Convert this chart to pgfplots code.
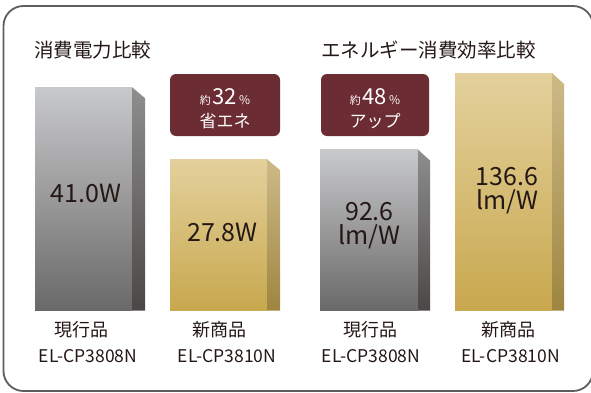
\documentclass[border=0pt]{standalone}
\usepackage{pgfplots}
\pgfplotsset{compat=1.18}
\usepackage{fontspec}
\setmainfont{Noto Sans CJK JP}
\definecolor{txt}{HTML}{231815}
\definecolor{boxc}{HTML}{6C2C33}
\definecolor{frame}{HTML}{5E5E5E}
\definecolor{gtop}{HTML}{C8C9CB}
\definecolor{gbot}{HTML}{6A6969}
\definecolor{gstop}{HTML}{8E8E8E}
\definecolor{gsbot}{HTML}{4B4746}
\definecolor{ytop}{HTML}{E3D09C}
\definecolor{ybot}{HTML}{C8A84E}
\definecolor{ystop}{HTML}{CDBA88}
\definecolor{ysbot}{HTML}{9E8540}
\begin{document}
\begin{tikzpicture}[x=1pt,y=1pt]
\path[use as bounding box] (0,0) rectangle (591,392);
% frame
\draw[frame, line width=1.8pt, rounded corners=20pt] (3.5,392-6) rectangle (593,392-391);
% power consumption axis (W); baseline at y=81.3pt, 5.45pt per W
\begin{axis}[at={(0,0)}, anchor=south west, scale only axis, width=591pt, height=392pt,
  xmin=0, xmax=591, ymin=-14.917, ymax=57.009, hide axis, clip=false]
\addplot[ybar, bar shift=0pt, bar width=97, draw=none, top color=gtop, bottom color=gbot] coordinates {(83.5,41.0)};
\addplot[ybar, bar shift=0pt, bar width=97, draw=none, top color=ytop, bottom color=ybot] coordinates {(218.5,27.8)};
\addplot[draw=none, top color=gstop, bottom color=gsbot] coordinates {(132,0) (132,41.0) (145,39.0) (145,0) (132,0)};
\addplot[draw=none, top color=ystop, bottom color=ysbot] coordinates {(267,0) (267,27.8) (280,25.8) (280,0) (267,0)};
\end{axis}
% efficiency axis (lm/W); baseline at y=81.3pt, 1.74pt per lm/W
\begin{axis}[at={(0,0)}, anchor=south west, scale only axis, width=591pt, height=392pt,
  xmin=0, xmax=591, ymin=-46.724, ymax=178.563, hide axis, clip=false]
\addplot[ybar, bar shift=0pt, bar width=98, draw=none, top color=gtop, bottom color=gbot] coordinates {(369,92.6)};
\addplot[ybar, bar shift=0pt, bar width=97, draw=none, top color=ytop, bottom color=ybot] coordinates {(503.5,136.6)};
\addplot[draw=none, top color=gstop, bottom color=gsbot] coordinates {(418,0) (418,92.6) (430,86.3) (430,0) (418,0)};
\addplot[draw=none, top color=ystop, bottom color=ysbot] coordinates {(552,0) (552,136.6) (564,130.3) (564,0) (552,0)};
\end{axis}
% titles
\node[txt, anchor=west, inner sep=0, font=\fontsize{19.5}{20}\selectfont] at (34,392-50) {消費電力比較};
\node[txt, anchor=west, inner sep=0, font=\fontsize{19.5}{20}\selectfont] at (321,392-50) {エネルギー消費効率比較};
% badges
\fill[boxc, rounded corners=6pt] (170,392-74) rectangle (280,392-136);
\fill[boxc, rounded corners=6pt] (321,392-74) rectangle (429,392-136);
\node[white, inner sep=0, anchor=base] at (225,392-104) {\fontsize{11}{12}\selectfont 約\,\fontsize{22}{24}\selectfont 32\fontsize{12}{12}\selectfont\,\%};
\node[white, inner sep=0, font=\fontsize{17}{18}\selectfont] at (225,392-121) {省エネ};
\node[white, inner sep=0, anchor=base] at (375,392-104) {\fontsize{11}{12}\selectfont 約\,\fontsize{22}{24}\selectfont 48\fontsize{12}{12}\selectfont\,\%};
\node[white, inner sep=0, font=\fontsize{17}{18}\selectfont] at (375,392-121) {アップ};
% values
\node[txt, inner sep=0, font=\fontsize{25}{26}\selectfont] at (86,392-193) {41.0W};
\node[txt, inner sep=0, font=\fontsize{25}{26}\selectfont] at (222.5,392-232) {27.8W};
\node[txt, inner sep=0, font=\fontsize{25}{26}\selectfont] at (369.5,392-212) {92.6};
\node[txt, inner sep=0, font=\fontsize{25}{26}\selectfont] at (369,392-237) {lm/W};
\node[txt, inner sep=0, font=\fontsize{25}{26}\selectfont] at (507,392-177) {136.6};
\node[txt, inner sep=0, font=\fontsize{25}{26}\selectfont] at (507,392-202) {lm/W};
% category labels
\node[txt, inner sep=0, font=\fontsize{18}{18}\selectfont] at (81.6,392-330) {現行品};
\node[txt, inner sep=0, font=\fontsize{17.5}{18}\selectfont] at (88,392-356) {EL-CP3808N};
\node[txt, inner sep=0, font=\fontsize{18}{18}\selectfont] at (219.5,392-330) {新商品};
\node[txt, inner sep=0, font=\fontsize{17.5}{18}\selectfont] at (227,392-356) {EL-CP3810N};
\node[txt, inner sep=0, font=\fontsize{18}{18}\selectfont] at (370.5,392-330) {現行品};
\node[txt, inner sep=0, font=\fontsize{17.5}{18}\selectfont] at (371,392-356) {EL-CP3808N};
\node[txt, inner sep=0, font=\fontsize{18}{18}\selectfont] at (508.5,392-330) {新商品};
\node[txt, inner sep=0, font=\fontsize{17.5}{18}\selectfont] at (510.5,392-356) {EL-CP3810N};
\end{tikzpicture}
\end{document}
